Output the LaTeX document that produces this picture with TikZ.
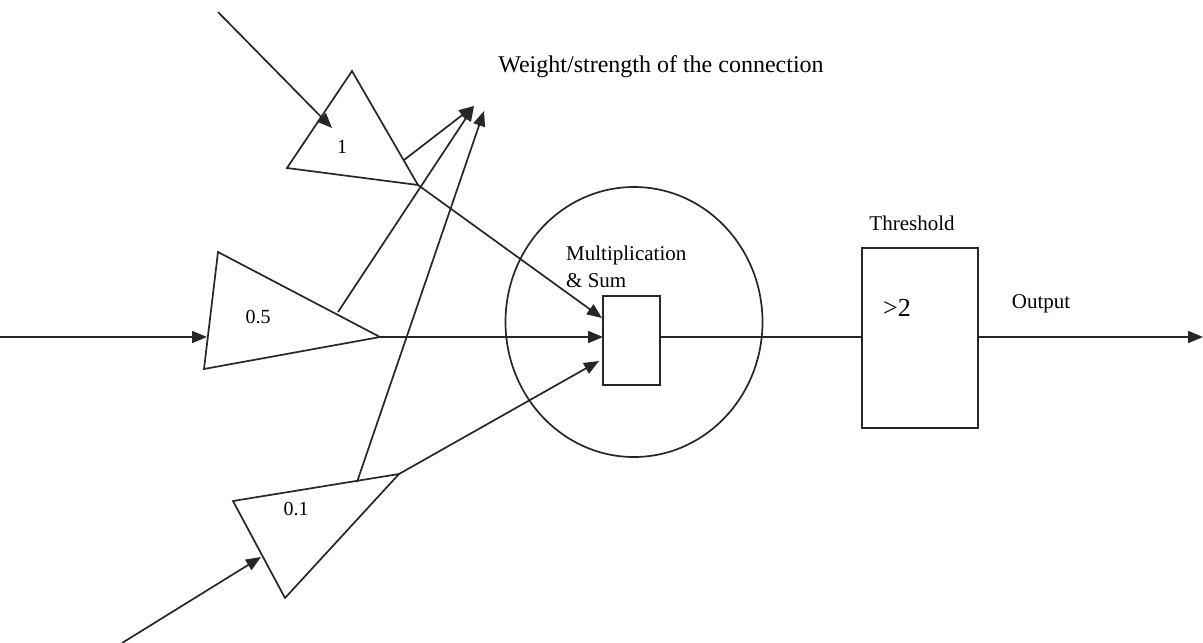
\documentclass[tikz,border=0pt]{standalone}
\usepackage{fontspec}
\setmainfont{Liberation Serif}
\usetikzlibrary{arrows.meta,shapes.geometric}
\begin{document}
\begin{tikzpicture}[x=1pt,y=-1pt,
  wire/.style={line width=1.7pt,draw=black!85},
  arr/.style={wire,-{Triangle[length=15pt,width=12pt]}},
  shp/.style={line width=1.7pt,draw=black!85},
  lbl/.style={inner sep=0pt,font=\fontsize{21}{27}\selectfont},
  wlbl/.style={inner sep=0pt,font=\fontsize{20}{24}\selectfont}]
\useasboundingbox (0,0) rectangle (1203,643);
% triangle 1
\coordinate (t1a) at (352,71);
\coordinate (t1b) at (287,168);
\coordinate (t1c) at (418,185);
\coordinate (t1e) at (404,160);
% triangle 0.5
\coordinate (t2a) at (218,252);
\coordinate (t2b) at (204,369);
\coordinate (t2c) at (380,337);
\coordinate (t2e) at (338,312);
% triangle 0.1
\coordinate (t3a) at (233,501);
\coordinate (t3b) at (285,598);
\coordinate (t3c) at (399,474);
\coordinate (t3e) at (357,482);
\draw[shp] (t1a) -- (t1b) -- (t1c) -- cycle;
\draw[shp] (t2a) -- (t2b) -- (t2c) -- cycle;
\draw[shp] (t3a) -- (t3b) -- (t3c) -- cycle;
% circle and boxes
\node[shp,ellipse,minimum width=257pt,minimum height=270pt,inner sep=0pt] (neuron) at (634,322) {};
\node[shp,rectangle,minimum width=57pt,minimum height=89pt,inner sep=0pt] (sum) at (631.5,340.5) {};
\node[shp,rectangle,minimum width=116pt,minimum height=180pt,inner sep=0pt] (thr) at (920,338) {};
% input starts and tips
\coordinate (in1) at (218,12);
\coordinate (in1t) at (332,128);
\coordinate (in2) at (0,337);
\coordinate (in2t) at (207,337);
\coordinate (in3) at (122,643);
\coordinate (in3t) at (261,557);
\coordinate (wA) at (474,106);
\coordinate (wB) at (484,111);
\coordinate (s1) at (602,318);
\coordinate (s2) at (603,337);
\coordinate (s3) at (599,361);
\coordinate (out) at (1203,337);
% connectors
\draw[arr] (in1) -- (in1t);
\draw[arr] (in2) -- (in2t);
\draw[arr] (in3) -- (in3t);
\draw[arr] (t1e) -- (wA);
\draw[arr] (t2e) -- (wA);
\draw[arr] (t3e) -- (wB);
\draw[arr] (t1c) -- (s1);
\draw[arr] (t2c) -- (s2);
\draw[arr] (t3c) -- (s3);
\draw[wire] (sum.east |- s2) -- (thr.west |- s2);
\draw[arr] (thr.east |- s2) -- (out);
% labels
\node[wlbl] (w1) at (342,147) {1};
\node[wlbl] (w2) at (258,317) {0.5};
\node[wlbl] (w3) at (296,509) {0.1};
\node[inner sep=0pt,font=\fontsize{24}{28}\selectfont] (wt) at (661,67) {Weight/strength of the connection};
\node[lbl,anchor=west,align=left] (ms) at (566,267) {Multiplication\\\& Sum};
\node[lbl] (tl) at (912,223) {Threshold};
\node[inner sep=0pt,font=\fontsize{26}{30}\selectfont] (gt) at (897,308) {>2};
\node[lbl] (ol) at (1041,304) {Output};
\end{tikzpicture}
\end{document}
